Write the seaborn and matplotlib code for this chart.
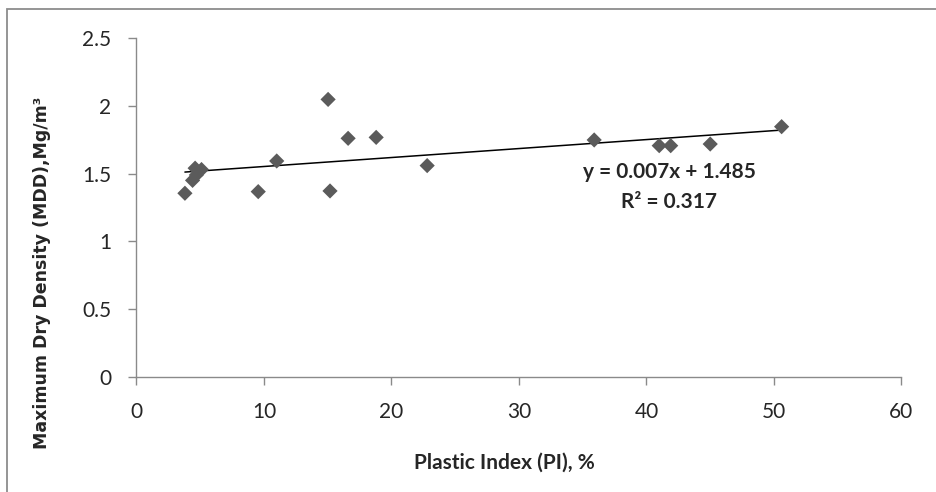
"""
MDD vs plastic index scatter with linear trend line
"""
import numpy as np
import pandas as pd
import matplotlib
matplotlib.use('Agg')
import matplotlib.pyplot as plt
import seaborn as sns
from matplotlib.patches import Rectangle

# Plastic index (%) and maximum dry density (Mg/m3)
plastic_index = [3.8, 4.4, 4.6, 4.7, 5.1, 9.55, 11.0, 15.03, 15.18, 16.6,
                 18.8, 22.8, 35.9, 41.0, 41.9, 45.0, 50.6]
mdd = [1.355, 1.45, 1.54, 1.49, 1.53, 1.367, 1.593, 2.047, 1.372, 1.76,
       1.767, 1.559, 1.748, 1.706, 1.706, 1.718, 1.846]

x_ticks = [0, 10, 20, 30, 40, 50, 60]
y_ticks = [0, 0.5, 1, 1.5, 2, 2.5]
y_tick_labels = ['0', '0.5', '1', '1.5', '2', '2.5']

eq_text = 'y = 0.007x + 1.485'
r2_text = 'R² = 0.317'

df = pd.DataFrame({'PI': plastic_index, 'MDD': mdd})

sns.set_theme(style='white')
plt.rcParams['font.family'] = ['Lato', 'DejaVu Sans']

fig = plt.figure(figsize=(9.36, 4.92), dpi=100)
ax = fig.add_axes([0.1458, 0.2337, 0.8173, 0.6891])

# trend line (least squares, drawn over the data range only)
sns.regplot(data=df, x='PI', y='MDD', ax=ax, ci=None, scatter=False,
            truncate=True, color='black', line_kws={'linewidth': 1.1})
sns.scatterplot(data=df, x='PI', y='MDD', ax=ax, marker='D', s=60,
                color='#5b5b5b', edgecolor='none', zorder=3)

ax.set_xlim(0, 60)
ax.set_ylim(0, 2.5)
ax.set_xticks(x_ticks)
ax.set_yticks(y_ticks)
ax.set_yticklabels(y_tick_labels)
ax.tick_params(axis='both', labelsize=15, length=6, width=1, color='#8a8a8a',
               direction='out', bottom=True, left=True)
ax.tick_params(axis='x', pad=12)
ax.tick_params(axis='y', pad=12)

for side in ['top', 'right']:
    ax.spines[side].set_visible(False)
for side in ['left', 'bottom']:
    ax.spines[side].set_color('#8a8a8a')
    ax.spines[side].set_linewidth(1.0)

ax.set_xlabel('Plastic Index (PI), %', fontsize=15, fontweight='bold')
ax.xaxis.set_label_coords(0.4804, -0.2528)
ax.xaxis.label.set_va('center')

ax.set_ylabel('Maximum Dry Density (MDD),Mg/m³', fontsize=12.5,
              fontweight='bold', family='DejaVu Sans')
ax.yaxis.set_label_coords(-0.1235, 0.308)
ax.yaxis.label.set_va('center')

ax.text(41.8, 1.514, eq_text, ha='center', va='center', fontsize=15,
        fontweight='bold')
ax.text(41.8, 1.293, r2_text, ha='center', va='center', fontsize=15,
        fontweight='bold')

# chart area border (cut off at right and bottom like the source image)
fig.patches.append(Rectangle((7 / 936, -0.1), 1.2, 1 - 8.5 / 492 + 0.1,
                             transform=fig.transFigure, fill=False,
                             edgecolor='#8c8c8c', linewidth=1.3))

fig.savefig('out.png', dpi=100)
